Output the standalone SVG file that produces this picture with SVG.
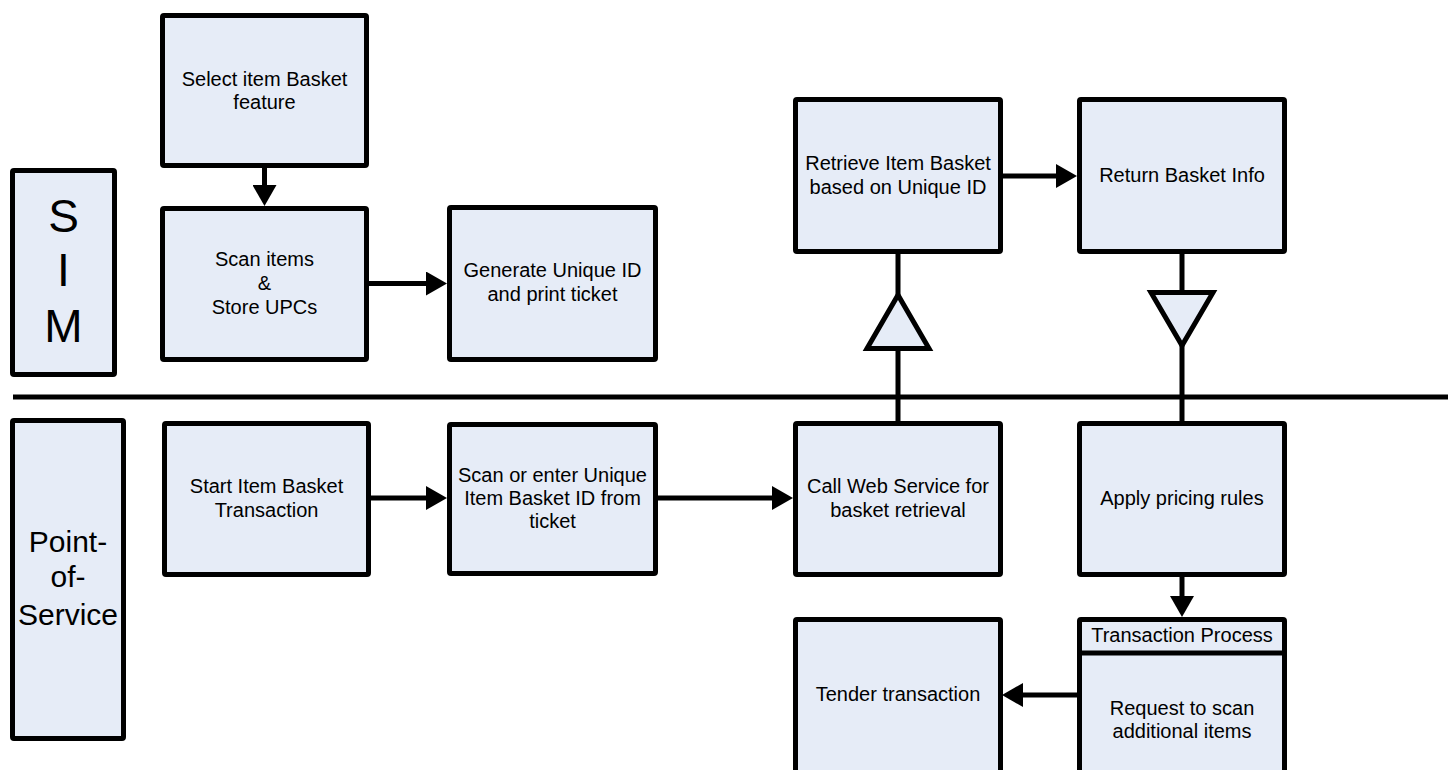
<svg xmlns="http://www.w3.org/2000/svg" width="1448" height="770" viewBox="0 0 1448 770">
<style>
.box{fill:#E6ECF7;stroke:#000;stroke-width:5;stroke-linejoin:miter}
.t{font-family:"Liberation Sans",Arial,sans-serif;font-size:20px;fill:#000;text-anchor:middle}
.lane{font-family:"Liberation Sans",Arial,sans-serif;fill:#000;text-anchor:middle}
.c{fill:none;stroke:#000;stroke-width:5}
.tri{fill:#E6ECF7;stroke:#000;stroke-width:5;stroke-linejoin:miter}
</style>
<defs>
<marker id="arr" viewBox="0 0 21 24" refX="11" refY="12" markerWidth="21" markerHeight="24" orient="auto" markerUnits="userSpaceOnUse">
<path d="M0,0 L21,12 L0,24 Z" fill="#000"/>
</marker>
</defs>
<rect width="1448" height="770" fill="#fff"/>

<g id="connectors">
<line class="c" x1="13" y1="397" x2="1448" y2="397" stroke-width="5.5"/>
<path class="c" d="M264.5,168 V196" marker-end="url(#arr)"/>
<path class="c" d="M369,283.5 H437" marker-end="url(#arr)"/>
<path class="c" d="M1003,176 H1067" marker-end="url(#arr)"/>
<path class="c" d="M371,498 H437" marker-end="url(#arr)"/>
<path class="c" d="M658,498 H783" marker-end="url(#arr)"/>
<path class="c" d="M1182,577 V607" marker-end="url(#arr)"/>
<path class="c" d="M1077,695 H1012" marker-end="url(#arr)"/>
<path class="c" d="M898,421 V254"/>
<polygon class="tri" points="867,348.5 929,348.5 898,295"/>
<path class="c" d="M1182,254 V421"/>
<polygon class="tri" points="1151,292.5 1213,292.5 1182,345.5"/>
</g>

<g id="lane-sim">
<rect class="box" x="12.5" y="170.5" width="102" height="204" rx="1.5"/>
<text class="lane" font-size="46" x="63.5" y="232">S</text>
<text class="lane" font-size="46" x="63.5" y="286">I</text>
<text class="lane" font-size="46" x="63.5" y="342">M</text>
</g>

<g id="lane-pos">
<rect class="box" x="12.5" y="420.5" width="111" height="318" rx="1.5"/>
<text class="lane" font-size="30" x="68" y="552">Point-</text>
<text class="lane" font-size="30" x="68" y="587">of-</text>
<text class="lane" font-size="30" x="68" y="625">Service</text>
</g>

<g id="select-feature">
<rect class="box" x="162.5" y="15.5" width="204" height="150" rx="1.5"/>
<text class="t" x="264.5" y="86">Select item Basket</text>
<text class="t" x="264.5" y="109">feature</text>
</g>

<g id="scan-items">
<rect class="box" x="162.5" y="208.5" width="204" height="151" rx="1.5"/>
<text class="t" x="264.5" y="266">Scan items</text>
<text class="t" x="264.5" y="290">&amp;</text>
<text class="t" x="264.5" y="314">Store UPCs</text>
</g>

<g id="generate-id">
<rect class="box" x="449.5" y="207.5" width="206" height="152" rx="1.5"/>
<text class="t" x="552.5" y="277">Generate Unique ID</text>
<text class="t" x="552.5" y="301">and print ticket</text>
</g>

<g id="retrieve-basket">
<rect class="box" x="795.5" y="99.5" width="205" height="152" rx="1.5"/>
<text class="t" x="898" y="170">Retrieve Item Basket</text>
<text class="t" x="898" y="194">based on Unique ID</text>
</g>

<g id="return-info">
<rect class="box" x="1079.5" y="99.5" width="205" height="152" rx="1.5"/>
<text class="t" x="1182" y="182">Return Basket Info</text>
</g>

<g id="start-transaction">
<rect class="box" x="164.5" y="423.5" width="204" height="151" rx="1.5"/>
<text class="t" x="266.5" y="493">Start Item Basket</text>
<text class="t" x="266.5" y="517">Transaction</text>
</g>

<g id="scan-enter-id">
<rect class="box" x="449.5" y="424.5" width="206" height="149" rx="1.5"/>
<text class="t" x="552.5" y="482">Scan or enter Unique</text>
<text class="t" x="552.5" y="505">Item Basket ID from</text>
<text class="t" x="552.5" y="528">ticket</text>
</g>

<g id="call-web-service">
<rect class="box" x="795.5" y="423.5" width="205" height="151" rx="1.5"/>
<text class="t" x="898" y="493">Call Web Service for</text>
<text class="t" x="898" y="517">basket retrieval</text>
</g>

<g id="apply-pricing">
<rect class="box" x="1079.5" y="423.5" width="205" height="151" rx="1.5"/>
<text class="t" x="1182" y="505">Apply pricing rules</text>
</g>

<g id="tender-transaction">
<rect class="box" x="795.5" y="619.5" width="205" height="165" rx="1.5"/>
<text class="t" x="898" y="701">Tender transaction</text>
</g>

<g id="transaction-process">
<rect class="box" x="1079.5" y="619.5" width="205" height="165" rx="1.5"/>
<line x1="1079.5" y1="653" x2="1284.5" y2="653" stroke="#000" stroke-width="5"/>
<text class="t" x="1182" y="642">Transaction Process</text>
<text class="t" x="1182" y="715">Request to scan</text>
<text class="t" x="1182" y="738">additional items</text>
</g>
</svg>
